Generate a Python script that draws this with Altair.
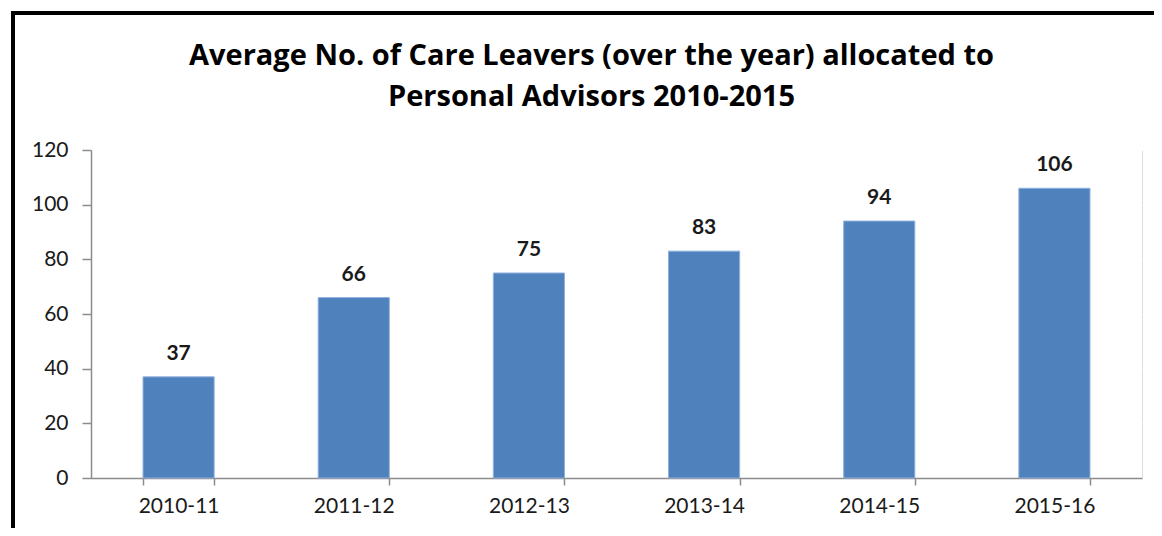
import altair as alt
import pandas as pd

years = ["2010-11", "2011-12", "2012-13", "2013-14", "2014-15", "2015-16"]
values = [37, 66, 75, 83, 94, 106]

df = pd.DataFrame({"year": years, "value": values})

FONT = "Lato"
TITLE_FONT = "Open Sans"
BAR = "#4f81bd"
AXIS = "#8c8c8c"

x = alt.X(
    "year:N",
    sort=years,
    title=None,
    scale=alt.Scale(paddingInner=0.594, paddingOuter=0.297),
    axis=alt.Axis(
        labelAngle=0,
        labelFont=FONT,
        labelFontSize=21,
        labelColor="#1a1a1a",
        labelPadding=10,
        tickBand="extent",
        tickSize=7,
        tickColor=AXIS,
        tickWidth=1.5,
        domainColor=AXIS,
        domainWidth=1.5,
        grid=False,
    ),
)
y = alt.Y(
    "value:Q",
    title=None,
    scale=alt.Scale(domain=[0, 120]),
    axis=alt.Axis(
        values=[0, 20, 40, 60, 80, 100, 120],
        labelFont=FONT,
        labelFontSize=21,
        labelColor="#1a1a1a",
        labelPadding=14,
        tickSize=9,
        tickColor=AXIS,
        tickWidth=1.5,
        domainColor=AXIS,
        domainWidth=1.5,
        grid=True,
        gridColor="#ffffff",
        gridWidth=1.5,
    ),
)

bars = alt.Chart(df).mark_bar(color=BAR, stroke="#8fb0dc", strokeWidth=1).encode(x=x, y=y)

labels = alt.Chart(df).mark_text(
    font=FONT, fontSize=21, fontWeight="bold", color="#1a1a1a",
    baseline="alphabetic", dy=-17,
).encode(x=alt.X("year:N", sort=years), y="value:Q", text="value:Q")

border = alt.Chart(df).mark_rect(
    fill=None, stroke="#000000", strokeWidth=4, clip=False,
).encode(
    x=alt.value(-78), x2=alt.value(1200),
    y=alt.value(-137), y2=alt.value(500),
)

chart = alt.layer(bars, labels, border).properties(
    width=1051,
    height=328,
    autosize=alt.AutoSizeParams(type="none"),
    padding={"left": 83, "top": 142, "right": 12, "bottom": 50},
    title=alt.TitleParams(
        text=["Average No. of Care Leavers (over the year) allocated to",
              "Personal Advisors 2010-2015"],
        font=TITLE_FONT, fontSize=29, fontWeight="bold", color="#000000",
        lineHeight=41, anchor="middle", dx=-25, dy=139, offset=38,
    ),
).configure_view(fill="#f3f6fb", strokeWidth=0, stroke="transparent").configure(background="#ffffff")

chart.save("out.html", embed_options={"renderer": "svg", "actions": False})
